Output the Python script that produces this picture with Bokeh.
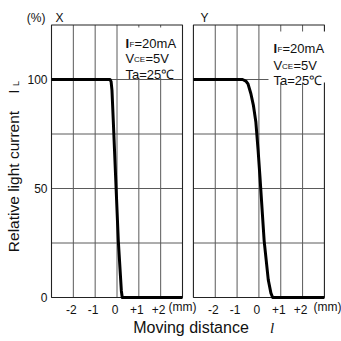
from bokeh.plotting import figure
from bokeh.models import Range1d
from bokeh.core.properties import value
from bokeh.embed import file_html
from bokeh.resources import INLINE
import math

# ---------------- data ----------------
panels = ["X", "Y"]
x_ticks = [-2, -1, 0, 1, 2]
x_tick_labels = ["-2", "-1", "0", "+1", "+2"]
y_ticks = [0, 50, 100]
y_tick_labels = ["0", "50", "100"]
x_grid = [-2, -1, 0, 1, 2]
y_grid = [25, 50, 75, 100]
x_lim = [-3, 3]
y_lim = [0, 125]

# Moving distance (mm) and relative light current (%)
dist_X = [-3.0, -0.32, -0.27, -0.23, -0.17, 0.06, 0.20, 0.24, 3.0]
il_X = [100, 100, 99, 95, 81, 26, 3, 0, 0]
dist_Y = [-3.0, -0.75, -0.60, -0.50, -0.37, -0.25, -0.14, -0.04, 0.05, 0.24, 0.43, 0.55, 0.63, 3.0]
il_Y = [100, 100, 99.3, 98, 93.6, 88, 80.5, 68, 55, 26, 8, 2, 0, 0]

# ---------------- layout ----------------
W = H = 341
ORG = 0                   # page px of the canvas' top-left corner
OFF = 6.5                 # horizontal shift of the second panel (data units)
XU = 131 / 6.0            # px per mm
YU = 2.18                 # px per %
X0_PAGE, Y0_PAGE = 51, 297  # page px of (x=-3, y=0) of first panel

def px_x(page_x):
    return (page_x - X0_PAGE) / XU - 3

def px_y(page_y):
    return (Y0_PAGE - page_y) / YU

p = figure(width=W, height=H, output_backend="svg", toolbar_location=None,
           x_range=Range1d(px_x(ORG), px_x(ORG + W)), y_range=Range1d(px_y(ORG + H), px_y(ORG)),
           min_border=0, outline_line_color=None, background_fill_color="white",
           border_fill_color="white")
p.axis.visible = False
p.xgrid.visible = False
p.ygrid.visible = False

SANS = value("Liberation Sans")
grid_col = "#5a5a5a"

offsets = [0.0, OFF]
curves = [(dist_X, il_X), (dist_Y, il_Y)]

for k, off in enumerate(offsets):
    # grid
    p.segment(x0=[g + off for g in x_grid], x1=[g + off for g in x_grid],
              y0=[y_lim[0]] * len(x_grid), y1=[y_lim[1]] * len(x_grid),
              line_color=grid_col, line_width=1)
    p.segment(x0=[x_lim[0] + off] * len(y_grid), x1=[x_lim[1] + off] * len(y_grid),
              y0=y_grid, y1=y_grid, line_color=grid_col, line_width=1)
    # frame
    p.quad(left=[x_lim[0] + off], right=[x_lim[1] + off], bottom=[y_lim[0]], top=[y_lim[1]],
           fill_color=None, line_color="#222222", line_width=1.1)
    # curve
    dx, iy = curves[k]
    p.line([d + off for d in dx], iy, line_color="black", line_width=3, line_join="round")
    # x tick labels
    p.text(x=[t + off for t in x_ticks], y=[y_lim[0]] * len(x_ticks), text=x_tick_labels,
           text_font=SANS, text_font_size="12px", text_align="center",
           text_baseline="middle", x_offset=-2, y_offset=12, text_color="#111111")
    # panel name
    p.text(x=[x_lim[0] + off], y=[y_lim[1]], text=[panels[k]], text_font=SANS,
           text_font_size="12px", text_align="left", text_baseline="middle",
           x_offset=4 if k == 0 else 7, y_offset=-7, text_color="#111111")

# (mm) labels
p.text(x=[px_x(168), px_x(313)], y=[0, 0], text=["(mm)", "(mm)"], text_font=SANS,
       text_font_size="12px", text_align="left", text_baseline="middle", y_offset=9,
       text_color="#111111")

# y tick labels
p.text(x=[x_lim[0]] * len(y_ticks), y=y_ticks, text=y_tick_labels, text_font=SANS,
       text_font_size="12px", text_align="right", text_baseline="middle", x_offset=-4,
       text_color="#111111")
p.text(x=[x_lim[0]], y=[y_lim[1]], text=["(%)"], text_font=SANS, text_font_size="12px",
       text_align="right", text_baseline="middle", x_offset=-6, y_offset=-7,
       text_color="#111111")

# annotation boxes (white)
p.quad(left=[px_x(121), px_x(268)], right=[px_x(178), px_x(326)],
       bottom=[px_y(77), px_y(82)], top=[px_y(27), px_y(31)],
       fill_color="white", line_color=None)

ann_left = [125, 273]
ann_base = [[42.7, 57.7, 73.7], [47.7, 64.7, 79.7]]
for k in range(2):
    ax = px_x(ann_left[k])
    b = [px_y(v) for v in ann_base[k]]
    common = dict(text_font=SANS, text_baseline="alphabetic", text_align="left",
                  text_color="#111111")
    p.text(x=[ax], y=[b[0]], text=["I"], text_font_size="13px", text_font_style="bold", **common)
    p.text(x=[ax], y=[b[0]], text=["F"], text_font_size="8px", x_offset=4, y_offset=1, **common)
    p.text(x=[ax], y=[b[0]], text=["=20mA"], text_font_size="13px", x_offset=9, **common)
    p.text(x=[ax], y=[b[1]], text=["V"], text_font_size="13px", **common)
    p.text(x=[ax], y=[b[1]], text=["CE"], text_font_size="8px", x_offset=8.5, y_offset=1, **common)
    p.text(x=[ax], y=[b[1]], text=["=5V"], text_font_size="13px", x_offset=20, **common)
    p.text(x=[ax], y=[b[2]], text=["Ta=25\u2103"], text_font_size="13px", **common)

# axis titles
p.text(x=[px_x(12.5)], y=[px_y(181)], text=["Relative light current"], angle=math.pi / 2,
       text_font=SANS, text_font_size="15.5px", text_align="center", text_baseline="middle",
       text_color="#111111")
p.text(x=[px_x(12.5)], y=[px_y(91)], text=["I"], angle=math.pi / 2, text_font=SANS,
       text_font_size="15.5px", text_align="center", text_baseline="middle",
       text_color="#111111")
p.text(x=[px_x(15.5)], y=[px_y(83)], text=["L"], angle=math.pi / 2, text_font=SANS,
       text_font_size="9px", text_align="center", text_baseline="middle",
       text_color="#111111")
p.text(x=[px_x(190.5)], y=[px_y(327)], text=["Moving distance"], text_font=SANS,
       text_font_size="16px", text_align="center", text_baseline="middle",
       text_color="#111111")
p.text(x=[px_x(271.5)], y=[px_y(327)], text=["l"], text_font=value("Liberation Serif"),
       text_font_style="italic", text_font_size="15px", text_align="center",
       text_baseline="middle", text_color="#111111")

open("out.html", "w").write(file_html(p, INLINE))
